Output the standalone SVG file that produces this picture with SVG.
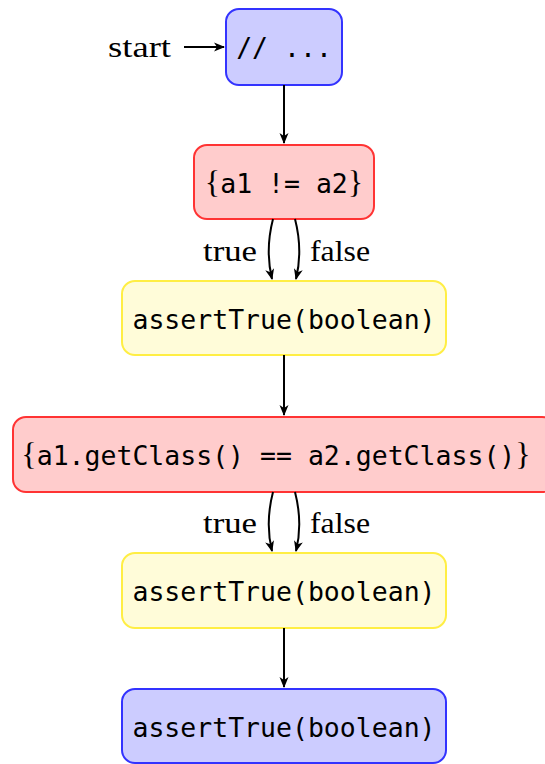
<svg xmlns="http://www.w3.org/2000/svg" width="545" height="764" viewBox="0 0 545 764">
<defs>
<marker id="ah" markerWidth="11" markerHeight="10" refX="10" refY="5" orient="auto" markerUnits="userSpaceOnUse">
<path d="M0,0.5 L11,5 L0,9.5 L3,5 Z" fill="#000"/>
</marker>
<style>
.blue{fill:#ccccff;stroke:#3333ff;stroke-width:2}
.red{fill:#ffcccc;stroke:#ff3333;stroke-width:2}
.yel{fill:#fffcd9;stroke:#ffee44;stroke-width:2}
.code{font-family:"DejaVu Sans Mono","Liberation Mono",monospace;font-size:26.5px;fill:#000;text-anchor:middle}
.br{font-family:"Liberation Serif","DejaVu Serif",serif;font-size:32px}
.lab{font-family:"Liberation Serif","DejaVu Serif",serif;font-size:30px;fill:#000}
.edge{fill:none;stroke:#000;stroke-width:2;marker-end:url(#ah)}
</style>
</defs>
<rect width="545" height="764" fill="#fff"/>
<g id="n1"><rect class="blue" x="226" y="9" width="116" height="76" rx="13"/><text class="code" x="284" y="57">// ...</text></g>
<g id="n2"><rect class="red" x="194" y="145" width="180" height="74" rx="13"/><text class="code" x="284" y="193"><tspan class="br">{</tspan>a1 != a2<tspan class="br">}</tspan></text></g>
<g id="n3"><rect class="yel" x="122" y="281" width="324" height="74" rx="13"/><text class="code" x="284" y="329">assertTrue(boolean)</text></g>
<g id="n4"><rect class="red" x="13" y="417" width="542" height="75" rx="13"/><text class="code" x="276" y="465"><tspan class="br">{</tspan>a1.getClass() == a2.getClass()<tspan class="br">}</tspan></text></g>
<g id="n5"><rect class="yel" x="122" y="553" width="324" height="75" rx="13"/><text class="code" x="284" y="601">assertTrue(boolean)</text></g>
<g id="n6"><rect class="blue" x="122" y="689" width="324" height="74" rx="13"/><text class="code" x="284" y="737">assertTrue(boolean)</text></g>
<g id="edges">
<text class="lab" x="108" y="57" textLength="63" lengthAdjust="spacingAndGlyphs">start</text>
<path class="edge" d="M184,47 L224,47"/>
<path class="edge" d="M284,85 L284,143"/>
<path class="edge" d="M273,219 Q265,250 272,279"/>
<path class="edge" d="M295,219 Q303,250 296,279"/>
<text class="lab" x="203" y="261" textLength="54" lengthAdjust="spacingAndGlyphs">true</text>
<text class="lab" x="310" y="261" textLength="60" lengthAdjust="spacingAndGlyphs">false</text>
<path class="edge" d="M284,355 L284,415"/>
<path class="edge" d="M273,492 Q265,523 272,551"/>
<path class="edge" d="M295,492 Q303,523 296,551"/>
<text class="lab" x="203" y="533" textLength="54" lengthAdjust="spacingAndGlyphs">true</text>
<text class="lab" x="310" y="533" textLength="60" lengthAdjust="spacingAndGlyphs">false</text>
<path class="edge" d="M284,628 L284,687"/>
</g>
</svg>
